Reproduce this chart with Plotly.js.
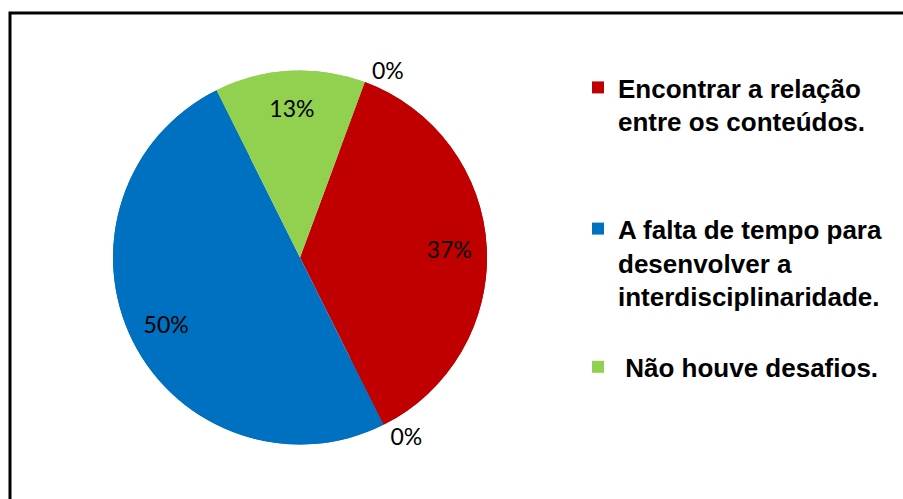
<!DOCTYPE html>
<html>
<head>
<meta charset="utf-8">
<script src="https://cdn.plot.ly/plotly-3.0.1.min.js"></script>
<style>html,body{margin:0;padding:0;background:#fff;}#chart{width:903px;height:499px;}</style>
</head>
<body>
<div id="chart"></div>
<script>
// Categories (zero-valued answers shown only by their 0% label)
const categories = [
  "Encontrar a relação<br>entre os conteúdos.",
  " <br> ",
  "A falta de tempo para<br>desenvolver a<br>interdisciplinaridade.<br> ",
  " Não houve desafios.",
  "  "
];
const values = [37, 0, 50, 13, 0];
const sliceColors = ["#C00000", "#FFFFFF", "#0070C0", "#92D050", "#FFFFFF"];
const labelPositions = ["inside", "outside", "inside", "inside", "outside"];

const W = 903, H = 499;
const cx = 300, cy = 257.5, r = 187;
const domain = {
  x: [(cx - r) / W, (cx + r) / W],
  y: [(H - cy - r) / H, (H - cy + r) / H]
};
const labelFont = {family: "Lato, 'Open Sans', sans-serif", size: 23, color: "#000"};

// full pie: slices + legend
const pieTrace = {
  type: "pie",
  labels: categories,
  values: values,
  sort: false,
  direction: "clockwise",
  rotation: 20.3,
  marker: {colors: sliceColors, line: {width: 0}},
  textinfo: "none",
  domain: domain,
  hoverinfo: "label+percent",
  showlegend: true
};

// same slices as a ring on top, carrying the data labels out near the rim
const labelTrace = {
  type: "pie",
  labels: categories,
  values: values,
  sort: false,
  direction: "clockwise",
  rotation: 20.3,
  hole: 0.6,
  marker: {colors: sliceColors, line: {width: 0}},
  texttemplate: "%{percent:.0%}",
  textposition: labelPositions,
  insidetextorientation: "horizontal",
  textfont: labelFont,
  insidetextfont: labelFont,
  outsidetextfont: labelFont,
  domain: domain,
  hoverinfo: "skip",
  showlegend: false
};

const layout = {
  width: W, height: H,
  margin: {l: 0, r: 0, t: 0, b: 0},
  paper_bgcolor: "#fff",
  plot_bgcolor: "#fff",
  showlegend: true,
  legend: {
    x: 578 / W, xanchor: "left",
    y: 1 - 64 / H, yanchor: "top",
    valign: "top",
    bgcolor: "rgba(0,0,0,0)",
    font: {family: "'Liberation Sans', Arial, sans-serif", size: 26, color: "#000", weight: "bold"}
  },
  shapes: [{
    type: "rect", xref: "paper", yref: "paper",
    x0: 10 / W, x1: 1.02, y0: -0.02, y1: 1 - 13 / H,
    line: {color: "#000", width: 3}, fillcolor: "rgba(0,0,0,0)"
  }]
};

Plotly.newPlot("chart", [pieTrace, labelTrace], layout, {displayModeBar: false, staticPlot: true});
</script>
</body>
</html>
